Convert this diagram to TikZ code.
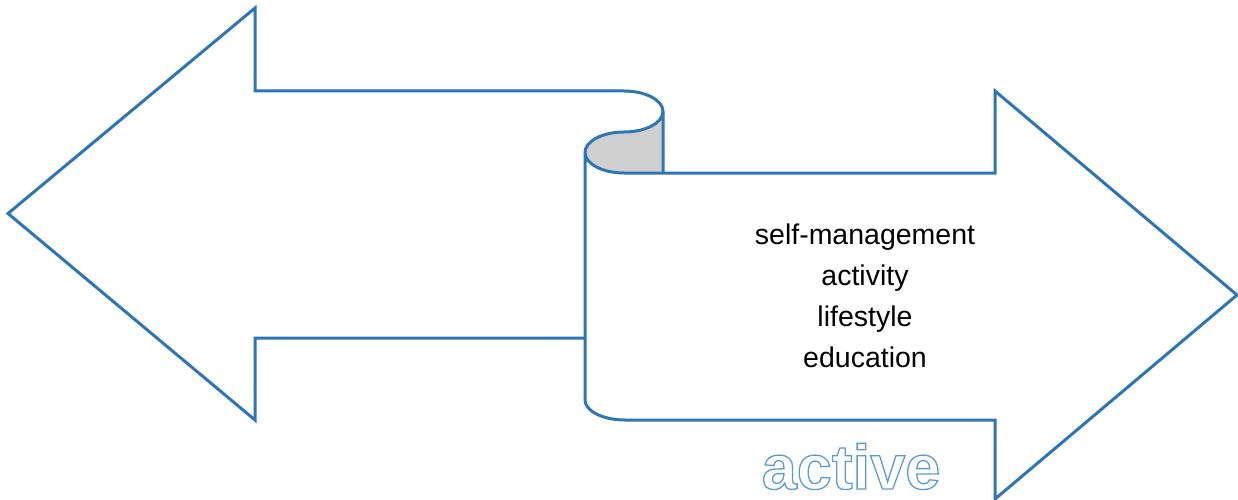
\documentclass[tikz,border=0pt]{standalone}
\usepackage{fontspec}
\setmainfont{Liberation Sans}
\definecolor{arrowblue}{HTML}{2E75B6}
\definecolor{outlineblue}{HTML}{5B9BD5}
\definecolor{curlgray}{HTML}{D0D0D0}
\newcommand{\outlinetext}[1]{\special{pdf:literal direct 1 Tr 1.3 w}#1\special{pdf:literal direct 0 Tr}}
\begin{document}
\begin{tikzpicture}[x=1pt,y=-1pt,
  outlinestyle/.style={draw=arrowblue,line width=3pt,line join=miter},
  listtext/.style={font=\fontsize{28.5}{41}\selectfont,align=center,text=black},
  wordtext/.style={font=\fontsize{63}{70}\selectfont\bfseries,text=outlineblue,inner sep=0pt}]
\useasboundingbox (0,0) rectangle (1238,500);
% gray curl
\fill[curlgray] (663,111.5) arc[start angle=0,end angle=90,x radius=39,y radius=20.5]
  arc[start angle=270,end angle=90,x radius=39,y radius=20.5] -- (663,173) -- cycle;
% left arrow with top of scroll
\draw[outlinestyle] (585,338) -- (255,338) -- (255,420) -- (8,213.5) -- (255,8) -- (255,91) -- (624,91)
  arc[start angle=270,end angle=360,x radius=39,y radius=20.5] -- (663,173);
% right arrow with curl
\draw[outlinestyle] (663,111.5) arc[start angle=0,end angle=90,x radius=39,y radius=20.5]
  arc[start angle=270,end angle=90,x radius=39,y radius=20.5]
  -- (995,173) -- (995,91) -- (1237,295) -- (995,499) -- (995,420) -- (625,420)
  arc[start angle=90,end angle=180,x radius=40,y radius=20] -- (585,152.5);
\node[listtext] (list) at (865,296) {self-management\\activity\\lifestyle\\education};
\node[wordtext,anchor=base] (word) at (851,489) {\outlinetext{active}};
\end{tikzpicture}
\end{document}
